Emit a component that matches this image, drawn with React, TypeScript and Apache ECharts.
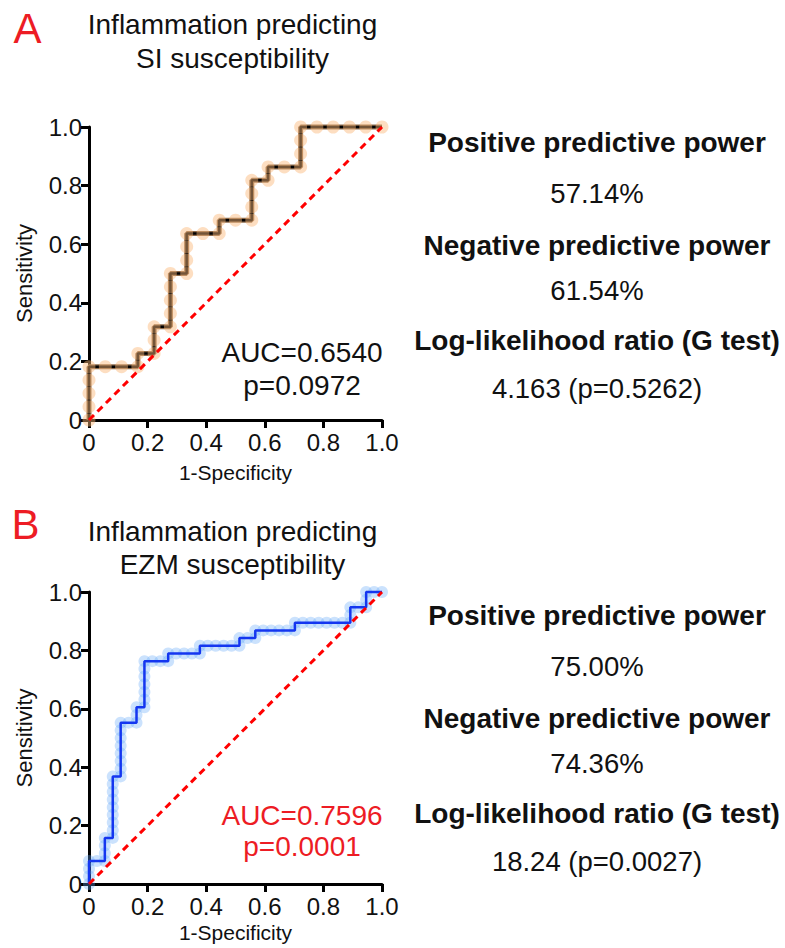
import React, { useEffect, useRef } from "react";
import * as echarts from "echarts";

const FONT = "'Liberation Sans', Arial, Helvetica, sans-serif";

// Panel A: ROC points as counts (false positives of 18 negatives, true positives of 22 positives)
const negTotalA = 18;
const posTotalA = 22;
const fpCountsA = [0, 0, 0, 0, 0, 1, 2, 3, 3, 4, 4, 4, 5, 5, 5, 5, 5, 6, 6, 6, 6, 7, 8, 8, 9, 10, 10, 10, 10, 11, 11, 12, 13, 13, 13, 13, 14, 15, 16, 17, 18];
const tpCountsA = [0, 1, 2, 3, 4, 4, 4, 4, 5, 5, 6, 7, 7, 8, 9, 10, 11, 11, 12, 13, 14, 14, 14, 15, 15, 15, 16, 17, 18, 18, 19, 19, 19, 20, 21, 22, 22, 22, 22, 22, 22];

// Panel B: ROC points as counts (of 37 negatives, 38 positives)
const negTotalB = 37;
const posTotalB = 38;
const fpCountsB = [0, 0, 0, 0, 1, 2, 2, 2, 2, 3, 3, 3, 3, 3, 3, 3, 3, 3, 4, 4, 4, 4, 4, 4, 4, 4, 5, 6, 6, 6, 7, 7, 7, 7, 7, 7, 7, 8, 9, 10, 10, 11, 12, 13, 14, 14, 15, 16, 17, 18, 19, 19, 20, 21, 21, 22, 23, 24, 25, 26, 26, 27, 28, 29, 30, 31, 32, 33, 33, 33, 34, 35, 35, 35, 36, 37];
const tpCountsB = [0, 1, 2, 3, 3, 3, 4, 5, 6, 6, 7, 8, 9, 10, 11, 12, 13, 14, 14, 15, 16, 17, 18, 19, 20, 21, 21, 21, 22, 23, 23, 24, 25, 26, 27, 28, 29, 29, 29, 29, 30, 30, 30, 30, 30, 31, 31, 31, 31, 31, 31, 32, 32, 32, 33, 33, 33, 33, 33, 33, 34, 34, 34, 34, 34, 34, 34, 34, 35, 36, 36, 36, 37, 38, 38, 38];

const diagonal = [[0, 0], [1, 1]];

const titleA = ["Inflammation predicting", "SI susceptibility"];
const titleB = ["Inflammation predicting", "EZM susceptibility"];
const statLabels = ["Positive predictive power", "Negative predictive power", "Log-likelihood ratio (G test)"];
const statValuesA = ["57.14%", "61.54%", "4.163 (p=0.5262)"];
const statValuesB = ["75.00%", "74.36%", "18.24 (p=0.0027)"];
const aucTextA = ["AUC=0.6540", "p=0.0972"];
const aucTextB = ["AUC=0.7596", "p=0.0001"];
const xAxisName = "1-Specificity";
const yAxisName = "Sensitivity";

const toPoints = (fp: number[], tp: number[], nNeg: number, nPos: number) =>
  fp.map((f, i) => [f / nNeg, tp[i] / nPos]);

function txt(text: string, x: number, y: number, size: number, opts: any = {}) {
  return {
    type: "text",
    x,
    y,
    silent: true,
    style: {
      text,
      fontSize: size,
      fontFamily: FONT,
      fontWeight: opts.bold ? "bold" : "normal",
      fill: opts.color || "#111",
      align: "center",
      verticalAlign: "middle",
      textAlign: "center",
      textVerticalAlign: "middle",
    },
  };
}

function axes(gridIndex: number, xNameGap: number) {
  const fmt = (v: number) => (v === 0 ? "0" : v.toFixed(1));
  const x = {
    type: "value",
    gridIndex,
    min: 0,
    max: 1,
    interval: 0.2,
    axisLine: { show: true, onZero: false, lineStyle: { color: "#000", width: 3 } },
    axisTick: { show: true, length: 8, lineStyle: { color: "#000", width: 3 } },
    splitLine: { show: false },
    axisLabel: { fontSize: 24, color: "#111", fontFamily: FONT, margin: 10, formatter: fmt },
    name: xAxisName,
    nameLocation: "middle",
    nameGap: xNameGap,
    nameTextStyle: { fontSize: 21, color: "#111", fontFamily: FONT },
  };
  const y = {
    type: "value",
    gridIndex,
    min: 0,
    max: 1,
    interval: 0.2,
    axisLine: { show: true, onZero: false, lineStyle: { color: "#000", width: 3 } },
    axisTick: { show: true, length: 8, lineStyle: { color: "#000", width: 3 } },
    splitLine: { show: false },
    axisLabel: { fontSize: 24, color: "#111", fontFamily: FONT, margin: 7, formatter: fmt },
    name: yAxisName,
    nameLocation: "middle",
    nameGap: 54,
    nameTextStyle: { fontSize: 22, color: "#111", fontFamily: FONT },
  };
  return { x, y };
}

export default function App() {
  const ref = useRef<HTMLDivElement>(null);
  useEffect(() => {
    if (!ref.current) return;
    const chart = echarts.init(ref.current, null, { renderer: "svg" });
    const ptsA = toPoints(fpCountsA, tpCountsA, negTotalA, posTotalA);
    const ptsB = toPoints(fpCountsB, tpCountsB, negTotalB, posTotalB);
    const a = axes(0, 42);
    const b = axes(1, 38);

    const statY = [0, 51, 103, 148, 198, 246];
    const graphics: any[] = [];
    graphics.push(txt("A", 27.5, 28, 42, { color: "#ED1C24" }));
    graphics.push(txt("B", 25.5, 524, 42, { color: "#ED1C24" }));
    graphics.push(txt(titleA[0], 232.5, 24.5, 28));
    graphics.push(txt(titleA[1], 232.5, 58, 28));
    graphics.push(txt(titleB[0], 232.5, 531.5, 28));
    graphics.push(txt(titleB[1], 232.5, 564.5, 28));
    const addStats = (vals: string[], top: number) => {
      for (let i = 0; i < 3; i++) {
        graphics.push(txt(statLabels[i], 597, top + statY[i * 2], 28, { bold: true }));
        graphics.push(txt(vals[i], 597, top + statY[i * 2 + 1], 27.5));
      }
    };
    addStats(statValuesA, 142);
    addStats(statValuesB, 615);
    graphics.push(txt(aucTextA[0], 302, 352, 28));
    graphics.push(txt(aucTextA[1], 302, 385, 28));
    graphics.push(txt(aucTextB[0], 302, 815, 28, { color: "#ED1C24" }));
    graphics.push(txt(aucTextB[1], 302, 846, 28, { color: "#ED1C24" }));

    const diag = (i: number) => ({
      type: "line",
      xAxisIndex: i,
      yAxisIndex: i,
      data: diagonal,
      symbol: "none",
      silent: true,
      clip: false,
      z: 10,
      lineStyle: { color: "#ff0000", width: 3, type: [7, 5] },
    });

    chart.setOption({
      animation: false,
      grid: [
        { left: 89, top: 127, width: 293, height: 293 },
        { left: 89, top: 592, width: 293, height: 292 },
      ],
      xAxis: [a.x, b.x],
      yAxis: [a.y, b.y],
      graphic: graphics,
      series: [
        {
          type: "line",
          xAxisIndex: 0,
          yAxisIndex: 0,
          data: ptsA,
          symbol: "none",
          silent: true,
          clip: false,
          z: 3,
          lineStyle: { color: "#8c6b4d", width: 5 },
        },
        {
          type: "line",
          xAxisIndex: 0,
          yAxisIndex: 0,
          data: ptsA,
          symbol: "none",
          silent: true,
          clip: false,
          z: 4,
          lineStyle: { color: "#000", width: 2.5 },
        },
        {
          type: "scatter",
          xAxisIndex: 0,
          yAxisIndex: 0,
          data: ptsA,
          symbol: "circle",
          symbolSize: 13,
          silent: true,
          clip: false,
          z: 5,
          itemStyle: { color: "rgba(250,184,121,0.58)" },
        },
        diag(0),
        {
          type: "scatter",
          xAxisIndex: 1,
          yAxisIndex: 1,
          data: ptsB,
          symbol: "circle",
          symbolSize: 12,
          silent: true,
          clip: false,
          z: 3,
          itemStyle: { color: "rgba(100,170,250,0.42)" },
        },
        {
          type: "line",
          xAxisIndex: 1,
          yAxisIndex: 1,
          data: ptsB,
          symbol: "none",
          silent: true,
          clip: false,
          z: 4,
          lineStyle: { color: "#1436f0", width: 2.5 },
        },
        diag(1),
      ],
    });
    return () => chart.dispose();
  }, []);
  return (
    <div
      ref={ref}
      style={{ position: "absolute", left: 0, top: 0, width: 785, height: 948, background: "#fff" }}
    />
  );
}
